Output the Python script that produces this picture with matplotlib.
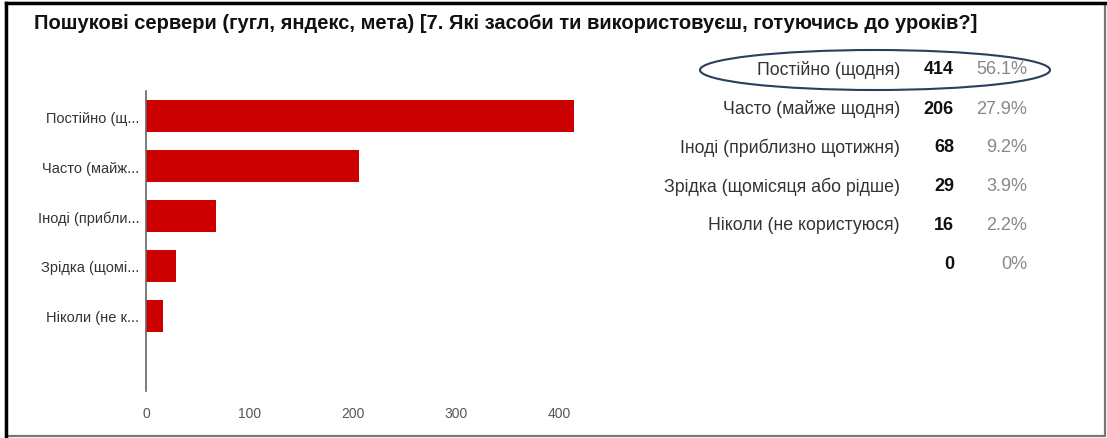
import matplotlib.pyplot as plt
from matplotlib.patches import Ellipse, Rectangle

W, H = 1107, 439

title = 'Пошукові сервери (гугл, яндекс, мета) [7. Які засоби ти використовуєш, готуючись до уроків?]'
answers = ['Постійно (щодня)', 'Часто (майже щодня)', 'Іноді (приблизно щотижня)',
           'Зрідка (щомісяця або рідше)', 'Ніколи (не користуюся)', '']
short_labels = ['Постійно (щ...', 'Часто (майж...', 'Іноді (прибли...',
                'Зрідка (щомі...', 'Ніколи (не к...', '']
counts = [414, 206, 68, 29, 16, 0]
percents = ['56.1%', '27.9%', '9.2%', '3.9%', '2.2%', '0%']
xticks = [0, 100, 200, 300, 400]


def fx(px):
    return px / W


def fy(py):
    return 1 - py / H


plt.rcParams['font.family'] = ['Liberation Sans', 'DejaVu Sans']

fig = plt.figure(figsize=(W / 100, H / 100), dpi=100)
fig.patch.set_facecolor('white')

# frame round the whole picture
fig.add_artist(Rectangle((fx(6), fy(437)), fx(1105) - fx(6), fy(4) - fy(437),
                         transform=fig.transFigure, fill=False, edgecolor='#777777', lw=1.6))
fig.add_artist(plt.Line2D([fx(6), fx(6)], [fy(437), fy(4)], transform=fig.transFigure,
                          color='black', lw=2.5))
fig.add_artist(plt.Line2D([fx(6), fx(1105)], [fy(4), fy(4)], transform=fig.transFigure,
                          color='black', lw=2.5))

fig.text(fx(34), fy(29), title, fontsize=14.5, fontweight='bold', color='#111111',
         ha='left', va='baseline')

# bar chart
ax = fig.add_axes([fx(146), fy(392), fx(580) - fx(146), fy(92) - fy(392)])
ypos = list(range(len(counts)))
ax.barh(ypos, counts, height=0.65, color='#cc0000')
ax.set_ylim(len(counts) - 0.5, -0.5)
ax.set_xlim(0, 420)
ax.set_yticks(ypos)
ax.set_yticklabels(short_labels, fontsize=10.5, color='#333333')
ax.set_xticks(xticks)
ax.set_xticklabels([str(t) for t in xticks], fontsize=10, color='#555555')
ax.tick_params(axis='both', length=0)
ax.tick_params(axis='y', pad=5)
ax.tick_params(axis='x', pad=11)
for s in ['top', 'right', 'bottom']:
    ax.spines[s].set_visible(False)
ax.spines['left'].set_color('#666666')
ax.spines['left'].set_linewidth(1.2)

# summary table on the right
row_y0, row_step = 70, 39
for i, (name, c, p) in enumerate(zip(answers, counts, percents)):
    y = fy(row_y0 + i * row_step)
    fig.text(fx(900), y, name, fontsize=12.8, color='#333333', ha='right', va='center')
    fig.text(fx(954), y, str(c), fontsize=13, fontweight='bold', color='#111111',
             ha='right', va='center')
    fig.text(fx(1027), y, p, fontsize=13, color='#888888', ha='right', va='center')

fig.add_artist(Ellipse((fx(875), fy(71)), fx(350), fy(0) - fy(40), transform=fig.transFigure,
                       fill=False, edgecolor='#2b3e5c', lw=1.5))

fig.savefig('out.png', dpi=100)
